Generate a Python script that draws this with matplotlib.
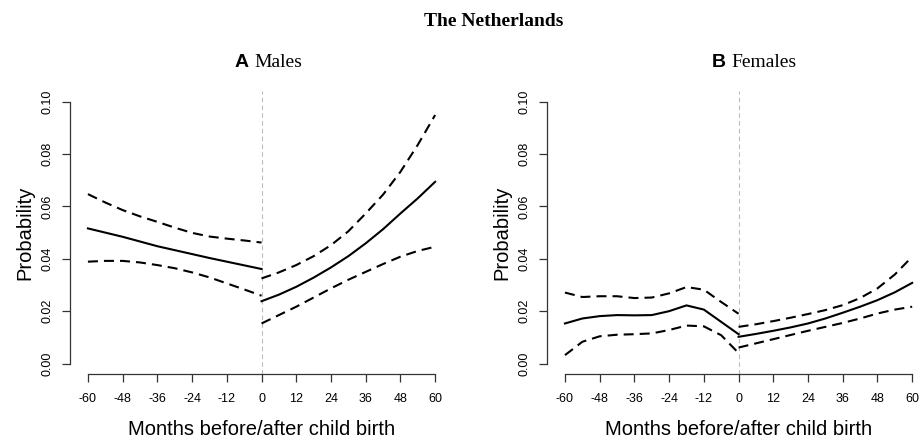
import matplotlib
matplotlib.use("Agg")
import matplotlib.pyplot as plt
from matplotlib.transforms import blended_transform_factory

plt.rcParams["font.family"] = ["Liberation Sans", "DejaVu Sans"]

# months relative to child birth
MONTHS_PRE = [-60, -54, -48, -42, -36, -30, -24, -18, -12, -6, 0]
MONTHS_POST = [0, 6, 12, 18, 24, 30, 36, 42, 48, 54, 60]

# Males
M_PRE = [.0516, .0500, .0484, .0466, .0448, .0433, .0418, .0403, .0389, .0375, .0361]
M_PRE_HI = [.0647, .0615, .0586, .0562, .0541, .0519, .0499, .0485, .0477, .0470, .0462]
M_PRE_LO = [.0389, .0392, .0392, .0386, .0376, .0364, .0348, .0329, .0306, .0283, .0259]
M_POST = [.0238, .0263, .0293, .0328, .0367, .0410, .0459, .0513, .0573, .0631, .0694]
M_POST_HI = [.0325, .0348, .0376, .0410, .0452, .0505, .0573, .0645, .0732, .0835, .0949]
M_POST_LO = [.0153, .0185, .0217, .0252, .0287, .0320, .0350, .0380, .0408, .0430, .0446]

# Females
F_PRE = [.0153, .0172, .0181, .0185, .0184, .0185, .0200, .0222, .0206, .0159, .0112]
F_PRE_HI = [.0271, .0254, .0257, .0257, .0250, .0252, .0268, .0292, .0282, .0235, .0190]
F_PRE_LO = [.0032, .0083, .0104, .0110, .0112, .0115, .0128, .0145, .0142, .0108, .0040]
F_POST = [.0102, .0113, .0125, .0138, .0153, .0172, .0194, .0217, .0242, .0272, .0308]
F_POST_HI = [.0140, .0150, .0162, .0175, .0189, .0204, .0223, .0250, .0287, .0340, .0408]
F_POST_LO = [.0061, .0077, .0093, .0109, .0125, .0140, .0155, .0172, .0191, .0206, .0217]

XTICKS = [-60, -48, -36, -24, -12, 0, 12, 24, 36, 48, 60]
YTICKS = [0.00, 0.02, 0.04, 0.06, 0.08, 0.10]

DASH = (4.8, 2.9)


def panel(fig, ax, letter, name, pre, pre_hi, pre_lo, post, post_hi, post_lo):
    ax.set_xlim(-64.8, 64.8)
    ax.set_ylim(-0.004, 0.104)
    ax.axvline(0, color="#bbbbbb", lw=0.8, ls=(0, (4, 3)), zorder=1)
    for xs, ys, hi, lo in [(MONTHS_PRE, pre, pre_hi, pre_lo),
                           (MONTHS_POST, post, post_hi, post_lo)]:
        ax.plot(xs, ys, color="black", lw=1.5, zorder=3)
        ax.plot(xs, hi, color="black", lw=1.5, dashes=DASH, zorder=3)
        ax.plot(xs, lo, color="black", lw=1.5, dashes=DASH, zorder=3)

    for s in ["top", "right"]:
        ax.spines[s].set_visible(False)
    ax.spines["left"].set_bounds(0, 0.10)
    ax.spines["bottom"].set_bounds(-60, 60)
    ax.spines["left"].set_position(("outward", 3))
    for s in ["left", "bottom"]:
        ax.spines[s].set_color("#333333")
        ax.spines[s].set_linewidth(0.9)

    ax.set_xticks(XTICKS)
    ax.set_xticklabels([str(t) for t in XTICKS])
    ax.set_yticks(YTICKS)
    ax.set_yticklabels([f"{t:.2f}" for t in YTICKS], rotation=90, va="center")
    ax.tick_params(length=5.5, width=0.9, color="#333333", labelsize=9)
    ax.tick_params(axis="x", pad=8.5)
    ax.tick_params(axis="y", pad=6.5)

    ax.set_ylabel("Probability", fontsize=14.5, labelpad=5)
    # x label sits right at the bottom edge, as in the original
    tr = blended_transform_factory(ax.transAxes, fig.transFigure)
    ax.text(0.5, 5 / 440, "Months before/after child birth", fontsize=14.5,
            ha="center", va="baseline", transform=tr)

    ax.text(0.48, 1.085, letter + " ", transform=ax.transAxes, ha="right",
            va="baseline", fontsize=14, fontweight="bold",
            family="Liberation Sans")
    ax.text(0.48, 1.085, name, transform=ax.transAxes, ha="left",
            va="baseline", fontsize=14, family="Liberation Serif")


fig = plt.figure(figsize=(9.22, 4.4), dpi=100)
ax1 = fig.add_axes([0.0803, 0.15, 0.4067, 0.6427])
ax2 = fig.add_axes([0.5977, 0.15, 0.4067, 0.6427])

panel(fig, ax1, "A", "Males", M_PRE, M_PRE_HI, M_PRE_LO, M_POST, M_POST_HI, M_POST_LO)
panel(fig, ax2, "B", "Females", F_PRE, F_PRE_HI, F_PRE_LO, F_POST, F_POST_HI, F_POST_LO)

fig.text(0.535, 0.94, "The Netherlands", ha="center", va="baseline",
         fontsize=14, fontweight="bold", family="Liberation Serif")

fig.savefig("out.png", dpi=100)
